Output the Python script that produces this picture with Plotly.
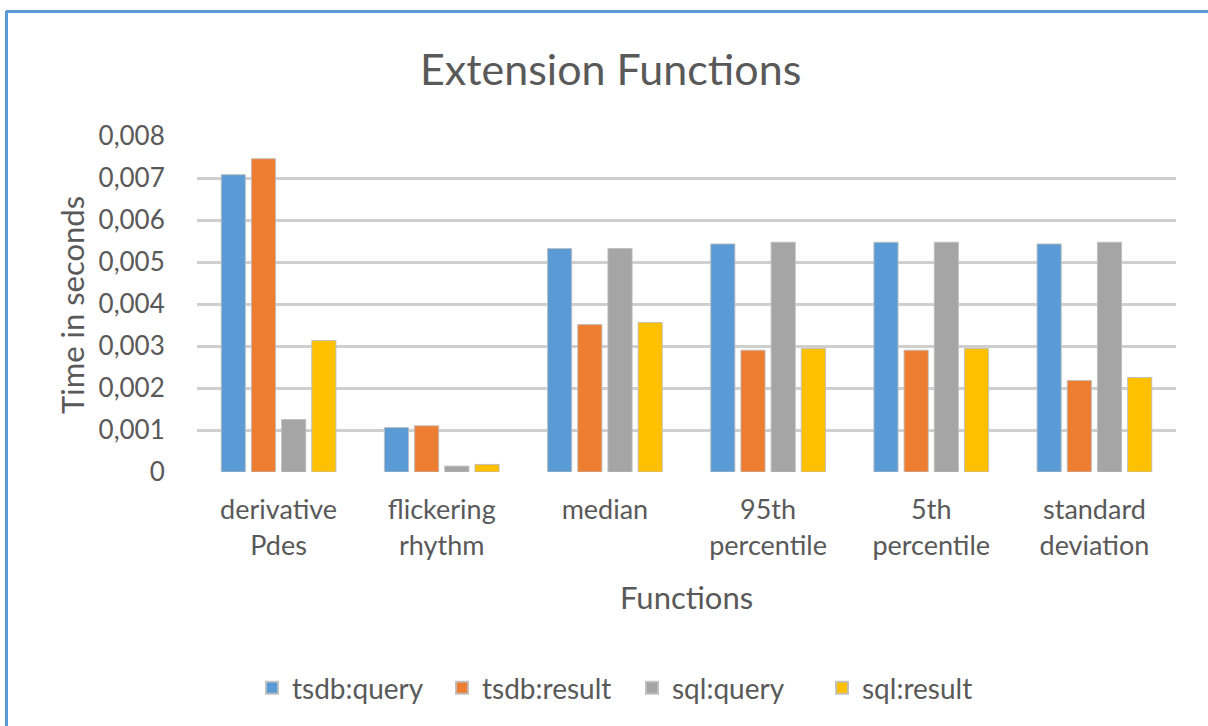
import plotly.graph_objects as go

# Categories and measured execution times (seconds)
functions = ["derivative<br>Pdes", "flickering<br>rhythm", "median",
             "95th<br>percentile", "5th<br>percentile", "standard<br>deviation"]
tsdb_query = [0.00708, 0.00106, 0.00532, 0.00543, 0.00547, 0.00543]
tsdb_result = [0.00746, 0.00110, 0.00351, 0.00290, 0.00290, 0.00218]
sql_query = [0.00125, 0.00014, 0.00532, 0.00547, 0.00547, 0.00547]
sql_result = [0.00313, 0.00018, 0.00356, 0.00294, 0.00294, 0.00225]

y_ticks = [0, 0.001, 0.002, 0.003, 0.004, 0.005, 0.006, 0.007, 0.008]
y_tick_labels = ["0", "0,001", "0,002", "0,003", "0,004", "0,005", "0,006", "0,007", "0,008"]

series = [
    ("tsdb:query", tsdb_query, "#5B9BD5"),
    ("tsdb:result", tsdb_result, "#ED7D31"),
    ("sql:query", sql_query, "#A5A5A5"),
    ("sql:result", sql_result, "#FFC000"),
]

FONT = "Lato"
TEXT = "#595959"

fig = go.Figure()
for name, vals, color in series:
    fig.add_trace(go.Bar(
        name=name, x=functions, y=vals,
        marker=dict(color=color, line=dict(color="rgba(190,190,190,0.9)", width=1)),
    ))

W, H = 1208, 726
L, R, T, B = 197, 32, 136, 254
pw, ph = W - L - R, H - T - B

def px(x):
    return (x - L) / pw

def py(y):
    return (H - B - y) / ph

fig.update_layout(
    width=W, height=H,
    margin=dict(l=L, r=R, t=T, b=B, pad=0),
    paper_bgcolor="white", plot_bgcolor="white",
    barmode="group", bargap=0.26, bargroupgap=0.2,
    font=dict(family=FONT, color=TEXT, size=27),
    showlegend=True,
    legend=dict(orientation="h", x=px(632), xanchor="center", y=py(688), yanchor="middle",
                font=dict(size=28, color=TEXT), traceorder="normal", itemsizing="constant",
                entrywidth=145, entrywidthmode="pixels"),
    xaxis=dict(showgrid=False, showline=False, zeroline=False,
               ticks="outside", ticklen=14, tickcolor="rgba(0,0,0,0)",
               tickfont=dict(size=27, color=TEXT)),
    yaxis=dict(range=[0, 0.008], tickvals=y_ticks, ticktext=y_tick_labels,
               showgrid=True, gridcolor="#CFCFCF", gridwidth=3, zeroline=False,
               showline=False, ticks="outside", ticklen=26, tickcolor="rgba(0,0,0,0)",
               tickfont=dict(size=26, color=TEXT)),
    annotations=[
        dict(text="Extension Functions", x=px(610), y=py(68), xref="paper", yref="paper",
             showarrow=False, font=dict(size=43, color=TEXT), xanchor="center", yanchor="middle"),
        dict(text="Time in seconds", x=px(72), y=py(305), xref="paper", yref="paper",
             showarrow=False, textangle=-90, font=dict(size=31, color=TEXT),
             xanchor="center", yanchor="middle"),
        dict(text="Functions", x=px(686), y=py(597), xref="paper", yref="paper",
             showarrow=False, font=dict(size=31, color=TEXT),
             xanchor="center", yanchor="middle"),
    ],
    shapes=[
        dict(type="line", xref="paper", yref="paper", x0=px(6), x1=px(1220), y0=py(11.5), y1=py(11.5),
             line=dict(color="#5B9BD5", width=3), layer="above"),
        dict(type="line", xref="paper", yref="paper", x0=px(6.5), x1=px(6.5), y0=py(11), y1=py(740),
             line=dict(color="#5B9BD5", width=3), layer="above"),
    ],
)

fig.write_html("out.html")
